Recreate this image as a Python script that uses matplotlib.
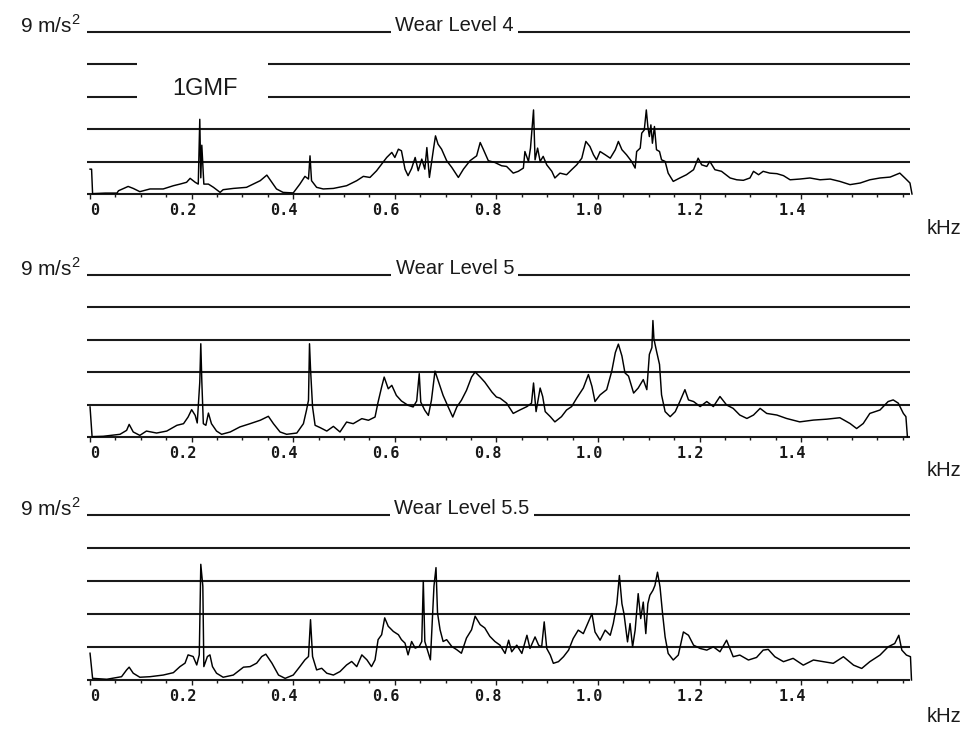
import numpy as np
import matplotlib
matplotlib.use('Agg')
import matplotlib.pyplot as plt
from matplotlib.transforms import ScaledTranslation

# spectra: frequency (kHz) and amplitude (m/s^2)
f_wl4 = [0.000, 0.003, 0.005, 0.030, 0.053, 0.056, 0.075, 0.085, 0.098, 0.118,
         0.144, 0.164, 0.177, 0.190, 0.197, 0.207, 0.213, 0.216, 0.218, 0.220,
         0.224, 0.233, 0.243, 0.256, 0.262, 0.282, 0.308, 0.321, 0.335, 0.348,
         0.358, 0.367, 0.380, 0.400, 0.413, 0.423, 0.430, 0.433, 0.436, 0.446,
         0.459, 0.479, 0.505, 0.525, 0.538, 0.551, 0.564, 0.574, 0.584, 0.594,
         0.600, 0.607, 0.613, 0.620, 0.626, 0.633, 0.640, 0.646, 0.653, 0.659,
         0.663, 0.668, 0.676, 0.680, 0.685, 0.692, 0.702, 0.712, 0.725, 0.735,
         0.748, 0.761, 0.768, 0.774, 0.784, 0.797, 0.810, 0.820, 0.833, 0.843,
         0.853, 0.856, 0.863, 0.867, 0.873, 0.876, 0.881, 0.886, 0.892, 0.899,
         0.909, 0.915, 0.925, 0.938, 0.948, 0.958, 0.968, 0.976, 0.984, 0.991,
         0.997, 1.004, 1.014, 1.024, 1.034, 1.040, 1.047, 1.056, 1.066, 1.073,
         1.076, 1.083, 1.086, 1.091, 1.095, 1.098, 1.101, 1.104, 1.107, 1.111,
         1.115, 1.121, 1.125, 1.132, 1.138, 1.148, 1.161, 1.174, 1.188, 1.197,
         1.204, 1.214, 1.220, 1.230, 1.243, 1.260, 1.273, 1.286, 1.299, 1.306,
         1.316, 1.325, 1.338, 1.352, 1.365, 1.378, 1.397, 1.417, 1.437, 1.457,
         1.476, 1.496, 1.516, 1.535, 1.555, 1.575, 1.594, 1.604, 1.614, 1.618]
a_wl4 = [1.38, 1.38, 0.02, 0.05, 0.05, 0.18, 0.42, 0.31, 0.13, 0.28,
         0.28, 0.46, 0.55, 0.65, 0.87, 0.65, 0.55, 4.15, 0.90, 2.71,
         0.55, 0.55, 0.37, 0.09, 0.24, 0.31, 0.37, 0.55, 0.74, 1.05,
         0.65, 0.28, 0.09, 0.06, 0.55, 0.98, 0.83, 2.12, 0.74, 0.37,
         0.28, 0.31, 0.46, 0.74, 0.98, 0.92, 1.29, 1.66, 2.03, 2.31,
         2.03, 2.49, 2.40, 1.38, 1.02, 1.42, 2.03, 1.29, 1.94, 1.38,
         2.58, 0.92, 2.49, 3.23, 2.77, 2.49, 1.85, 1.48, 0.92, 1.38,
         1.85, 2.12, 2.86, 2.49, 1.85, 1.75, 1.57, 1.53, 1.16, 1.26,
         1.44, 2.36, 1.81, 2.55, 4.67, 1.90, 2.55, 1.81, 2.09, 1.62,
         1.26, 0.89, 1.16, 1.07, 1.35, 1.62, 1.99, 2.92, 2.64, 2.18,
         1.90, 2.36, 2.18, 1.99, 2.46, 2.92, 2.46, 2.18, 1.81, 1.44,
         2.36, 2.55, 3.38, 3.56, 4.67, 3.75, 3.19, 3.84, 2.82, 3.75,
         2.46, 2.36, 1.90, 1.81, 1.16, 0.70, 0.89, 1.07, 1.35, 1.99,
         1.62, 1.53, 1.81, 1.35, 1.26, 0.89, 0.79, 0.76, 0.89, 1.26,
         1.07, 1.26, 1.16, 1.13, 1.02, 0.79, 0.83, 0.89, 0.79, 0.83,
         0.70, 0.52, 0.61, 0.79, 0.89, 0.94, 1.16, 0.89, 0.61, 0.00]

f_wl5 = [0.000, 0.004, 0.026, 0.059, 0.072, 0.077, 0.085, 0.098, 0.111, 0.131,
         0.151, 0.171, 0.184, 0.193, 0.200, 0.207, 0.211, 0.216, 0.218, 0.220,
         0.223, 0.228, 0.233, 0.239, 0.249, 0.259, 0.276, 0.295, 0.315, 0.335,
         0.351, 0.361, 0.374, 0.387, 0.407, 0.420, 0.426, 0.430, 0.432, 0.434,
         0.438, 0.443, 0.453, 0.466, 0.479, 0.492, 0.505, 0.518, 0.535, 0.548,
         0.561, 0.567, 0.574, 0.579, 0.587, 0.594, 0.603, 0.613, 0.626, 0.636,
         0.643, 0.648, 0.651, 0.659, 0.666, 0.672, 0.679, 0.685, 0.695, 0.705,
         0.714, 0.722, 0.731, 0.741, 0.751, 0.758, 0.768, 0.777, 0.791, 0.800,
         0.807, 0.820, 0.833, 0.846, 0.860, 0.869, 0.873, 0.878, 0.886, 0.891,
         0.896, 0.906, 0.915, 0.928, 0.938, 0.948, 0.958, 0.971, 0.981, 0.988,
         0.994, 1.004, 1.017, 1.027, 1.034, 1.040, 1.047, 1.053, 1.060, 1.070,
         1.079, 1.089, 1.096, 1.101, 1.106, 1.108, 1.110, 1.115, 1.121, 1.125,
         1.132, 1.142, 1.152, 1.161, 1.171, 1.178, 1.188, 1.201, 1.214, 1.227,
         1.240, 1.253, 1.266, 1.279, 1.293, 1.306, 1.319, 1.332, 1.352, 1.371,
         1.397, 1.424, 1.450, 1.476, 1.496, 1.509, 1.522, 1.535, 1.555, 1.571,
         1.581, 1.591, 1.601, 1.606, 1.609]
a_wl5 = [1.67, 0.02, 0.04, 0.15, 0.37, 0.70, 0.28, 0.09, 0.33, 0.22,
         0.33, 0.65, 0.74, 1.11, 1.52, 1.20, 0.78, 3.05, 5.18, 3.11,
         0.74, 0.65, 1.33, 0.74, 0.33, 0.15, 0.28, 0.56, 0.74, 0.93,
         1.15, 0.74, 0.28, 0.15, 0.22, 0.74, 1.48, 2.04, 5.18, 3.79,
         1.67, 0.65, 0.52, 0.33, 0.59, 0.28, 0.83, 0.74, 1.02, 0.93,
         1.11, 1.94, 2.78, 3.33, 2.68, 2.87, 2.31, 2.00, 1.76, 1.67,
         2.00, 3.52, 1.94, 1.48, 1.20, 2.04, 3.66, 3.15, 2.31, 1.67,
         1.11, 1.67, 2.04, 2.59, 3.33, 3.61, 3.33, 3.05, 2.50, 2.22,
         2.16, 1.88, 1.31, 1.50, 1.69, 1.88, 3.00, 1.41, 2.72, 2.25,
         1.41, 1.13, 0.84, 1.13, 1.50, 1.69, 2.16, 2.72, 3.47, 2.81,
         1.97, 2.34, 2.63, 3.66, 4.69, 5.16, 4.50, 3.56, 3.38, 2.44,
         2.72, 3.19, 2.63, 4.59, 4.97, 6.47, 5.44, 4.78, 4.03, 2.34,
         1.41, 1.13, 1.41, 1.97, 2.63, 2.06, 1.97, 1.69, 1.97, 1.69,
         2.25, 1.78, 1.59, 1.22, 1.03, 1.22, 1.59, 1.31, 1.22, 1.03,
         0.84, 0.94, 0.99, 1.07, 0.75, 0.47, 0.75, 1.31, 1.50, 1.97,
         2.06, 1.88, 1.31, 1.13, 0.00]

f_wl55 = [0.000, 0.005, 0.033, 0.062, 0.072, 0.077, 0.085, 0.098, 0.118, 0.144,
          0.164, 0.177, 0.187, 0.193, 0.203, 0.210, 0.215, 0.218, 0.222, 0.224,
          0.231, 0.236, 0.241, 0.249, 0.262, 0.282, 0.302, 0.315, 0.328, 0.338,
          0.346, 0.358, 0.371, 0.384, 0.400, 0.413, 0.423, 0.430, 0.434, 0.438,
          0.446, 0.456, 0.466, 0.479, 0.492, 0.505, 0.515, 0.525, 0.535, 0.545,
          0.554, 0.561, 0.567, 0.574, 0.580, 0.587, 0.597, 0.607, 0.613, 0.620,
          0.626, 0.633, 0.640, 0.648, 0.653, 0.656, 0.659, 0.666, 0.670, 0.677,
          0.681, 0.684, 0.689, 0.695, 0.702, 0.712, 0.722, 0.731, 0.741, 0.751,
          0.758, 0.768, 0.777, 0.787, 0.797, 0.807, 0.817, 0.824, 0.830, 0.840,
          0.850, 0.860, 0.866, 0.876, 0.883, 0.889, 0.894, 0.899, 0.906, 0.912,
          0.922, 0.932, 0.942, 0.951, 0.961, 0.971, 0.981, 0.988, 0.994, 1.004,
          1.014, 1.024, 1.030, 1.037, 1.042, 1.047, 1.051, 1.058, 1.063, 1.068,
          1.073, 1.079, 1.084, 1.089, 1.094, 1.098, 1.102, 1.108, 1.112, 1.117,
          1.122, 1.127, 1.132, 1.138, 1.148, 1.158, 1.168, 1.178, 1.188, 1.201,
          1.214, 1.227, 1.240, 1.253, 1.266, 1.279, 1.296, 1.312, 1.325, 1.335,
          1.348, 1.365, 1.384, 1.404, 1.424, 1.443, 1.463, 1.483, 1.503, 1.519,
          1.535, 1.555, 1.571, 1.584, 1.592, 1.598, 1.607, 1.615, 1.617]
a_wl55 = [1.46, 0.09, 0.04, 0.18, 0.55, 0.70, 0.37, 0.15, 0.18, 0.27,
          0.40, 0.73, 0.92, 1.37, 1.28, 0.82, 1.37, 6.31, 5.12, 0.73,
          1.28, 1.37, 0.73, 0.37, 0.15, 0.27, 0.70, 0.73, 0.92, 1.28,
          1.41, 0.92, 0.27, 0.09, 0.27, 0.73, 1.10, 1.28, 3.29, 1.28,
          0.55, 0.64, 0.37, 0.27, 0.46, 0.82, 1.01, 0.73, 1.37, 1.10,
          0.73, 1.10, 2.20, 2.47, 3.39, 2.93, 2.65, 2.47, 2.20, 2.01,
          1.37, 2.10, 1.74, 1.83, 2.10, 5.40, 2.10, 1.46, 1.10, 5.12,
          6.13, 3.66, 2.74, 2.10, 2.20, 1.83, 1.65, 1.46, 2.29, 2.74,
          3.48, 3.02, 2.84, 2.38, 2.10, 1.90, 1.45, 2.17, 1.54, 1.90,
          1.45, 2.44, 1.72, 2.35, 1.90, 1.81, 3.17, 1.72, 1.36, 0.91,
          1.00, 1.27, 1.63, 2.26, 2.72, 2.53, 3.17, 3.62, 2.62, 2.17,
          2.72, 2.44, 3.08, 4.16, 5.70, 4.16, 3.62, 2.08, 3.08, 1.81,
          2.72, 4.71, 3.35, 4.25, 2.53, 4.16, 4.62, 4.89, 5.16, 5.88,
          5.07, 3.62, 2.35, 1.45, 1.09, 1.36, 2.62, 2.44, 1.90, 1.72,
          1.63, 1.81, 1.54, 2.17, 1.27, 1.36, 1.09, 1.23, 1.63, 1.67,
          1.27, 1.00, 1.18, 0.81, 1.09, 1.00, 0.91, 1.27, 0.81, 0.63,
          1.00, 1.36, 1.81, 1.99, 2.44, 1.63, 1.36, 1.27, 0.00]

titles = ['Wear Level 4', 'Wear Level 5', 'Wear Level 5.5']
full_scale = 9.0
tick_vals = [0, 0.2, 0.4, 0.6, 0.8, 1.0, 1.2, 1.4]
tick_text = ['0', '0.2', '0.4', '0.6', '0.8', '1.0', '1.2', '1.4']

series = [(f_wl4, a_wl4), (f_wl5, a_wl5), (f_wl55, a_wl55)]

W, H = 963, 729
# (top line px, baseline px) of each panel
panel_px = [(32, 194), (275, 437), (515, 680)]
title_x = [0.718, 0.718, 0.732]
khz_dy = [-34, -34, -36]

txt_font = ['Liberation Sans', 'DejaVu Sans']
plt.rcParams['mathtext.fontset'] = 'custom'
plt.rcParams['mathtext.rm'] = 'Liberation Sans'
ink = '#1a1a1a'

fig = plt.figure(figsize=(W / 100, H / 100), dpi=100)

x0, x1 = -0.006, 1.614
levels = np.arange(0, 5) * full_scale / 5

for k, (freq, amp) in enumerate(series):
    top, base = panel_px[k]
    ax = fig.add_axes([87 / W, (H - base) / H, 825 / W, (base - top) / H])
    ax.set_xlim(-0.006, 1.618)
    ax.set_ylim(0, full_scale)
    for s in ax.spines.values():
        s.set_visible(False)
    ax.set_yticks([])

    # horizontal scale lines
    if k == 0:
        ax.hlines(levels[:3], x0, x1, color=ink, lw=1.5, clip_on=False)
        ax.hlines(levels[3:], x0, 0.093, color=ink, lw=1.5)
        ax.hlines(levels[3:], 0.350, x1, color=ink, lw=1.5)
        ax.text(0.226, levels[3] + 0.12, '1GMF', ha='center', va='baseline',
                fontsize=17, family=txt_font, color=ink)
    else:
        ax.hlines(levels, x0, x1, color=ink, lw=1.5, clip_on=False)
    ax.hlines(full_scale, x0, x1, color=ink, lw=1.5, clip_on=False)
    ax.text(title_x[k], full_scale + 0.03, titles[k], ha='center', va='baseline',
            fontsize=14.5, family=txt_font, color=ink, zorder=5,
            bbox=dict(fc='white', ec='none', pad=3))
    ax.annotate('9 m/s$^2$', xy=(0, 1), xycoords='axes fraction', xytext=(-6, -1),
                textcoords='offset pixels', ha='right', va='baseline',
                fontsize=15, family=txt_font, color=ink)
    ax.annotate('kHz', xy=(1, 0), xycoords='axes fraction', xytext=(32, khz_dy[k]),
                textcoords='offset pixels', ha='center', va='center',
                fontsize=14.5, family=txt_font, color=ink)

    ax.plot(freq, amp, color='black', lw=1.05, clip_on=False, zorder=4)

    ax.set_xticks(np.arange(0, 1.61, 0.05), minor=True)
    ax.set_xticks(tick_vals, tick_text)
    ax.tick_params(axis='x', which='both', direction='out', width=1.0,
                   color=ink, pad=3)
    ax.tick_params(axis='x', which='major', length=3.5)
    ax.tick_params(axis='x', which='minor', length=2.2)
    for i, lab in enumerate(ax.get_xticklabels()):
        lab.set_fontfamily('DejaVu Sans Mono')
        lab.set_fontweight('bold')
        lab.set_fontsize(11)
        lab.set_color(ink)
        dx = 5 if i == 0 else -9
        lab.set_transform(lab.get_transform() + ScaledTranslation(dx / 100, 0, fig.dpi_scale_trans))

fig.savefig('out.png', dpi=100, facecolor='white')
